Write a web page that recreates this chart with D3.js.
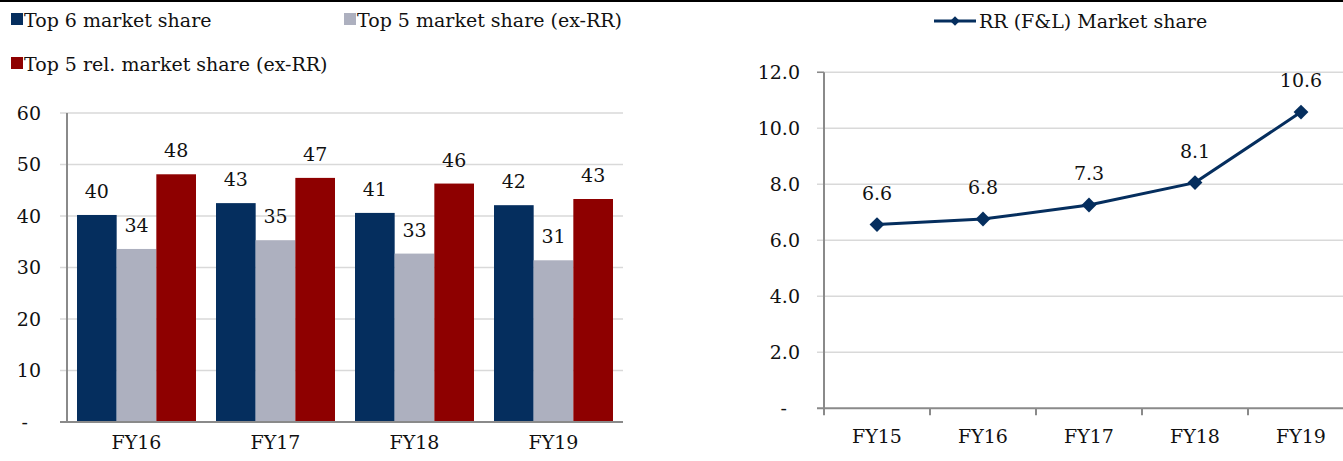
<!DOCTYPE html>
<html>
<head>
<meta charset="utf-8">
<script src="https://cdn.jsdelivr.net/npm/d3@7/dist/d3.min.js"></script>
<style>
  html, body { margin: 0; padding: 0; background: #fff; }
  svg { display: block; }
</style>
</head>
<body>
<svg id="chart" width="1343" height="461" font-family="'DejaVu Serif', 'Liberation Serif', serif"></svg>
<script>
// ---- Data ----
const barCategories = ["FY16", "FY17", "FY18", "FY19"];
const barSeries = ["Top 6 market share", "Top 5 market share (ex-RR)", "Top 5 rel. market share (ex-RR)"];
const top6Share = [40.2, 42.5, 40.6, 42.1];
const top5Share = [33.6, 35.3, 32.7, 31.4];
const top5RelShare = [48.1, 47.4, 46.3, 43.3];
const barYTicks = [0, 10, 20, 30, 40, 50, 60];

const lineCategories = ["FY15", "FY16", "FY17", "FY18", "FY19"];
const lineSeriesName = "RR (F&L) Market share";
const rrShare = [6.56, 6.76, 7.26, 8.06, 10.58];
const lineYTicks = [0, 2, 4, 6, 8, 10, 12];

const barColors = ["#052e5e", "#adb0bf", "#8e0000"];
const lineColor = "#052e5e";
const axisColor = "#8a8a8a";
const gridColor = "#d9d9d9";
const textColor = "#111";
const FS = 19;

const svg = d3.select("#chart");

// top rule
svg.append("line").attr("x1", 0).attr("x2", 1343).attr("y1", 1).attr("y2", 1)
  .attr("stroke", "#000").attr("stroke-width", 2);

// ---------------- Left bar chart ----------------
(function () {
  const left = 67, right = 623, top = 113, bottom = 422;
  const y = d3.scaleLinear().domain([0, 60]).range([bottom, top]);
  const x0 = d3.scaleBand().domain(barCategories).range([left, right])
    .paddingInner(0.144).paddingOuter(0.072);
  const x1 = d3.scaleBand().domain(barSeries).range([0, x0.bandwidth()]);
  const values = [top6Share, top5Share, top5RelShare];

  const g = svg.append("g");
  g.append("g").selectAll("line").data(barYTicks.filter(d => d > 0)).join("line")
    .attr("x1", left - 7).attr("x2", right)
    .attr("y1", d => y(d)).attr("y2", d => y(d))
    .attr("stroke", gridColor).attr("stroke-width", 1.5);

  barSeries.forEach((s, si) => {
    g.append("g").selectAll("rect").data(barCategories).join("rect")
      .attr("x", c => x0(c) + x1(s))
      .attr("width", x1.bandwidth())
      .attr("y", (c, i) => y(values[si][i]))
      .attr("height", (c, i) => y(0) - y(values[si][i]))
      .attr("fill", barColors[si]);
    g.append("g").selectAll("text").data(barCategories).join("text")
      .attr("x", c => x0(c) + x1(s) + x1.bandwidth() / 2)
      .attr("y", (c, i) => y(values[si][i]) - 17)
      .attr("text-anchor", "middle")
      .attr("font-size", FS).attr("fill", textColor)
      .text((c, i) => Math.round(values[si][i]));
  });

  g.append("line").attr("x1", left).attr("x2", left).attr("y1", top).attr("y2", bottom)
    .attr("stroke", axisColor).attr("stroke-width", 2);
  g.append("line").attr("x1", left - 7).attr("x2", right).attr("y1", bottom).attr("y2", bottom)
    .attr("stroke", axisColor).attr("stroke-width", 2);

  g.append("g").selectAll("text").data(barYTicks).join("text")
    .attr("x", d => d === 0 ? 28 : 41)
    .attr("y", d => y(d))
    .attr("dy", "0.35em")
    .attr("text-anchor", "end")
    .attr("font-size", FS).attr("fill", textColor)
    .text(d => d === 0 ? "-" : d);

  g.append("g").selectAll("text").data(barCategories).join("text")
    .attr("x", c => x0(c) + x0.bandwidth() / 2)
    .attr("y", 449)
    .attr("text-anchor", "middle")
    .attr("font-size", FS).attr("fill", textColor)
    .text(c => c);

  const legendPos = [[11, 20], [344, 20], [11, 64]];
  barSeries.forEach((s, si) => {
    const [lx, ly] = legendPos[si];
    g.append("rect").attr("x", lx).attr("y", ly - 7).attr("width", 12).attr("height", 12)
      .attr("fill", barColors[si]);
    g.append("text").attr("x", lx + 13).attr("y", ly).attr("dy", "0.35em")
      .attr("font-size", FS).attr("fill", textColor).text(s);
  });
})();

// ---------------- Right line chart ----------------
(function () {
  const left = 824, right = 1354, top = 72.3, bottom = 408.3;
  const y = d3.scaleLinear().domain([0, 12]).range([bottom, top]);
  const x = d3.scaleBand().domain(lineCategories).range([left, right]).padding(0);
  const g = svg.append("g");

  g.append("g").selectAll("line").data(lineYTicks.filter(d => d > 0)).join("line")
    .attr("x1", left - 7).attr("x2", right)
    .attr("y1", d => y(d)).attr("y2", d => y(d))
    .attr("stroke", gridColor).attr("stroke-width", 1.5);

  g.append("line").attr("x1", left).attr("x2", left).attr("y1", top).attr("y2", bottom)
    .attr("stroke", axisColor).attr("stroke-width", 2);
  g.append("line").attr("x1", left - 7).attr("x2", right).attr("y1", bottom).attr("y2", bottom)
    .attr("stroke", axisColor).attr("stroke-width", 2);
  g.append("line").attr("x1", left - 7).attr("x2", left).attr("y1", top).attr("y2", top)
    .attr("stroke", axisColor).attr("stroke-width", 1.5);
  g.append("g").selectAll("line").data(lineCategories).join("line")
    .attr("x1", c => x(c)).attr("x2", c => x(c))
    .attr("y1", bottom).attr("y2", bottom + 7)
    .attr("stroke", axisColor).attr("stroke-width", 2);

  g.append("g").selectAll("text").data(lineYTicks).join("text")
    .attr("x", d => d === 0 ? 787 : 800)
    .attr("y", d => y(d))
    .attr("dy", "0.35em")
    .attr("text-anchor", "end")
    .attr("font-size", FS).attr("fill", textColor)
    .text(d => d === 0 ? "-" : d.toFixed(1));

  g.append("g").selectAll("text").data(lineCategories).join("text")
    .attr("x", c => x(c) + x.bandwidth() / 2)
    .attr("y", 443)
    .attr("text-anchor", "middle")
    .attr("font-size", FS).attr("fill", textColor)
    .text(c => c);

  const cx = c => x(c) + x.bandwidth() / 2;
  const line = d3.line().x((d, i) => cx(lineCategories[i])).y(d => y(d));
  g.append("path").datum(rrShare).attr("d", line)
    .attr("fill", "none").attr("stroke", lineColor).attr("stroke-width", 3);
  const sym = d3.symbol().type(d3.symbolSquare).size(110);
  g.append("g").selectAll("path").data(rrShare).join("path")
    .attr("d", sym)
    .attr("transform", (d, i) => `translate(${cx(lineCategories[i])},${y(d)}) rotate(45)`)
    .attr("fill", lineColor);
  g.append("g").selectAll("text").data(rrShare).join("text")
    .attr("x", (d, i) => cx(lineCategories[i]))
    .attr("y", d => y(d) - 25)
    .attr("text-anchor", "middle")
    .attr("font-size", FS).attr("fill", textColor)
    .text(d => d.toFixed(1));

  g.append("line").attr("x1", 934).attr("x2", 976).attr("y1", 21).attr("y2", 21)
    .attr("stroke", lineColor).attr("stroke-width", 3);
  g.append("path").attr("d", d3.symbol().type(d3.symbolSquare).size(45)())
    .attr("transform", "translate(955,21) rotate(45)").attr("fill", lineColor);
  g.append("text").attr("x", 979).attr("y", 21).attr("dy", "0.35em")
    .attr("font-size", FS).attr("fill", textColor).text(lineSeriesName);
})();
</script>
</body>
</html>
